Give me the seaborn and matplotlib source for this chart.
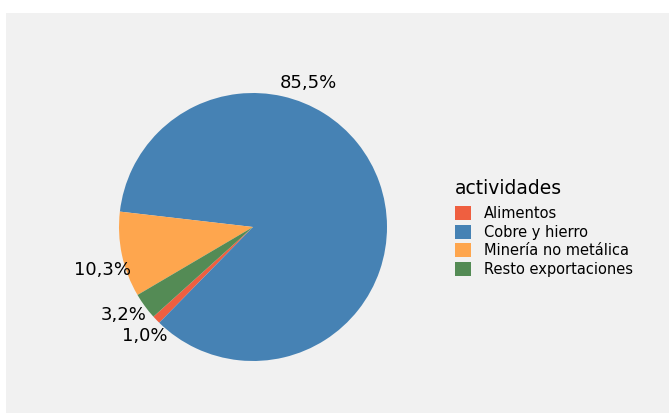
import numpy as np
import seaborn as sns
import matplotlib.pyplot as plt
from matplotlib.patches import Rectangle

# datos
actividades = ["Alimentos", "Cobre y hierro", "Minería no metálica", "Resto exportaciones"]
porcentajes = [1.0, 85.5, 10.3, 3.2]
colores = ["#ef5f40", "#4682b4", "#fea64e", "#548b55"]

# posición de cada etiqueta: fracción del ángulo de la cuña y distancia al centro
frac_etiqueta = [0.92, 0.66, 0.61, 0.33]
dist_etiqueta = [1.145, 1.15, 1.165, 1.165]

sns.set_theme(style="white")
plt.rcParams['font.family'] = ['DejaVu Sans']
plt.rcParams['text.color'] = 'black'

fig = plt.figure(figsize=(6.69, 4.13), dpi=100)
fig.patch.set_facecolor("white")
# panel gris de fondo
fig.patches.append(Rectangle((6 / 669, 0), 1, 1 - 13 / 413, transform=fig.transFigure,
                             facecolor="#f1f1f1", edgecolor="none", zorder=-1))

ax = fig.add_axes([119 / 669, 52 / 413, 268 / 669, 268 / 413])
ax.set_facecolor("none")
wedges, _ = ax.pie(porcentajes, colors=sns.color_palette(colores), startangle=222,
                   counterclock=True, radius=1, wedgeprops={"linewidth": 0})
ax.set_xlim(-1, 1)
ax.set_ylim(-1, 1)
ax.set_aspect("equal")
ax.axis("off")

# etiquetas fuera del pastel
for w, v, f, r in zip(wedges, porcentajes, frac_etiqueta, dist_etiqueta):
    ang = np.deg2rad(w.theta1 + f * (w.theta2 - w.theta1))
    ax.text(r * np.cos(ang), r * np.sin(ang), f"{v:.1f}%".replace(".", ","),
            ha="center", va="center", fontsize=13, color="black")

leg = fig.legend(wedges, actividades, title="actividades", loc="upper left",
                 bbox_to_anchor=(448 / 669, 1 - 172 / 413), frameon=False,
                 fontsize=10.5, title_fontsize=13.5, handlelength=1.1, handleheight=1.1,
                 labelspacing=0.25, handletextpad=0.85, borderpad=0)
leg._legend_box.align = "left"
leg._legend_box.sep = leg._legend_box.sep + 3
for t in leg.get_texts():
    t.set_color("black")
leg.get_title().set_color("black")

plt.savefig("out.png", dpi=100)
